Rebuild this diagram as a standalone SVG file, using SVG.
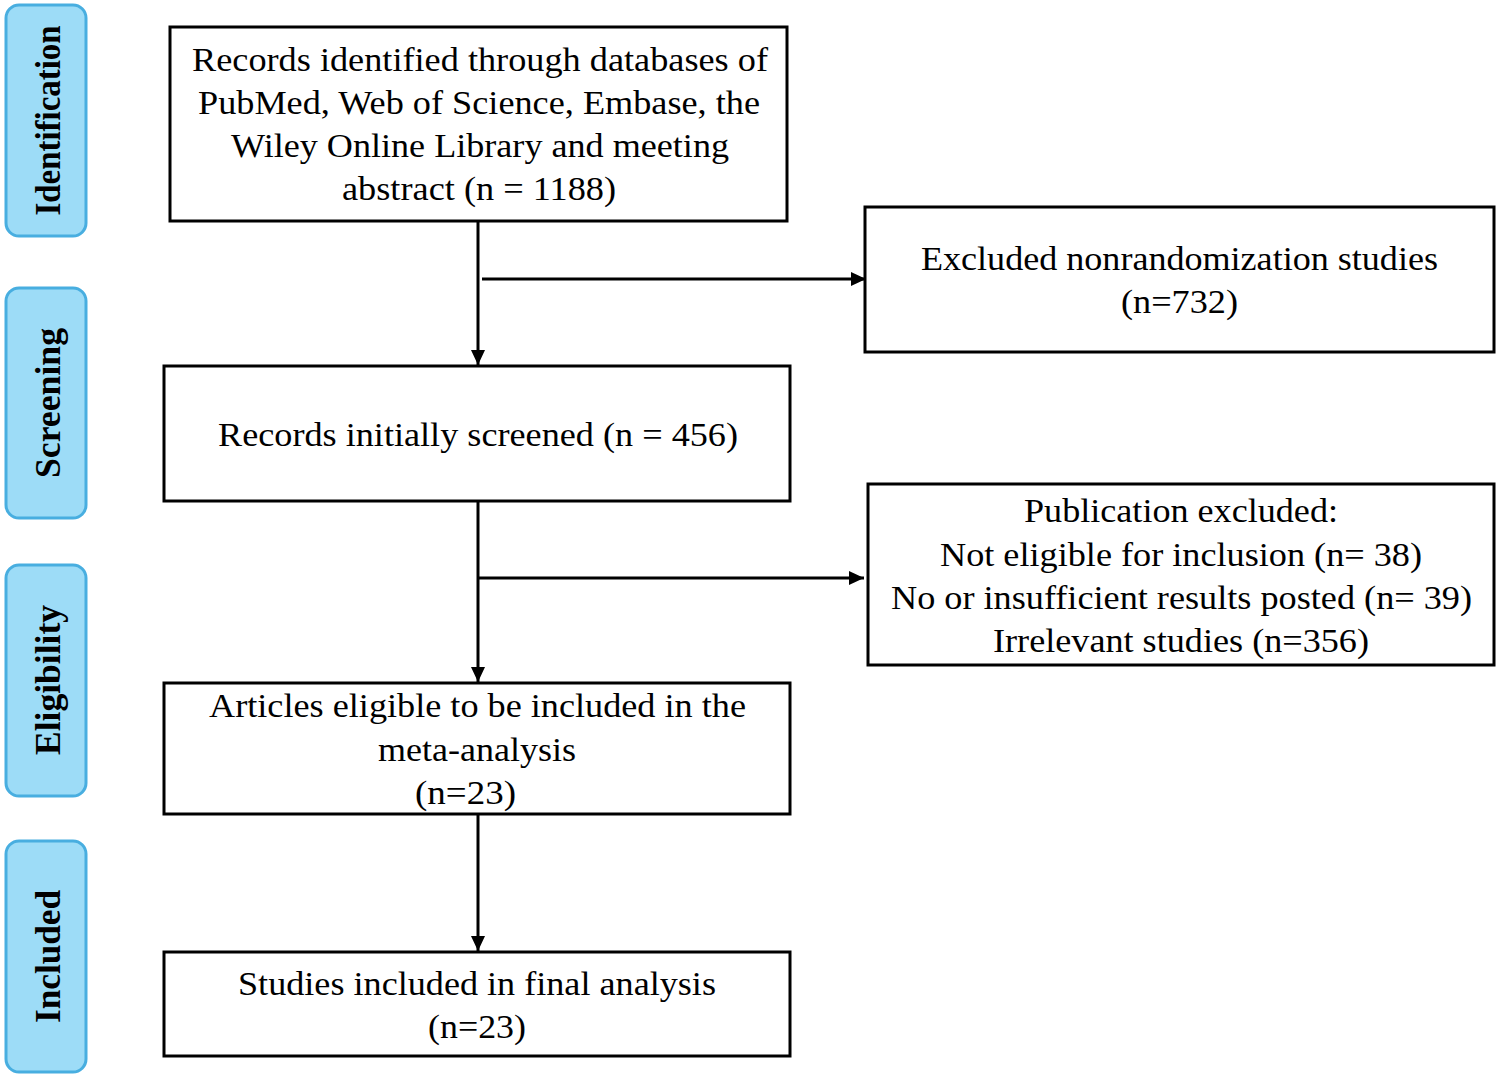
<svg xmlns="http://www.w3.org/2000/svg" width="1499" height="1078" viewBox="0 0 1499 1078">
<defs>
<style>
.box{fill:#fff;stroke:#000;stroke-width:3}
.side{fill:#9ddcf7;stroke:#48aee0;stroke-width:3}
.t{font-family:"Liberation Serif","Times New Roman",serif;font-size:34px;fill:#000;text-anchor:middle}
.s{font-family:"Liberation Serif","Times New Roman",serif;font-size:35px;font-weight:bold;fill:#000;text-anchor:middle}
.c{stroke:#000;stroke-width:3;fill:none}
</style>
<marker id="ah" markerUnits="userSpaceOnUse" markerWidth="16" markerHeight="14" refX="15" refY="7" orient="auto">
<path d="M0,0 L15,7 L0,14 Z" fill="#000"/>
</marker>
</defs>
<rect width="1499" height="1078" fill="#fff"/>
<g id="side-identification">
<rect class="side" x="6" y="5" width="80" height="231" rx="13"/>
<text class="s" transform="translate(60,120.5) rotate(-90)" textLength="190" lengthAdjust="spacingAndGlyphs">Identification</text>
</g>
<g id="side-screening">
<rect class="side" x="6" y="288" width="80" height="230" rx="13"/>
<text class="s" transform="translate(60,403) rotate(-90)" textLength="150" lengthAdjust="spacingAndGlyphs">Screening</text>
</g>
<g id="side-eligibility">
<rect class="side" x="6" y="565" width="80" height="231" rx="13"/>
<text class="s" transform="translate(60,680) rotate(-90)" textLength="150" lengthAdjust="spacingAndGlyphs">Eligibility</text>
</g>
<g id="side-included">
<rect class="side" x="6" y="841" width="80" height="231" rx="13"/>
<text class="s" transform="translate(60,956.5) rotate(-90)" textLength="133" lengthAdjust="spacingAndGlyphs">Included</text>
</g>
<g id="connectors">
<line class="c" x1="478" y1="222" x2="478" y2="365" marker-end="url(#ah)"/>
<line class="c" x1="482" y1="279" x2="866" y2="279" marker-end="url(#ah)"/>
<line class="c" x1="478" y1="502" x2="478" y2="682" marker-end="url(#ah)"/>
<line class="c" x1="478" y1="578" x2="864" y2="578" marker-end="url(#ah)"/>
<line class="c" x1="478" y1="815" x2="478" y2="951" marker-end="url(#ah)"/>
</g>
<g id="node-identified">
<rect class="box" x="170" y="27" width="617" height="194"/>
<text class="t" x="480" y="71" textLength="576" lengthAdjust="spacingAndGlyphs">Records identified through databases of</text>
<text class="t" x="479" y="114" textLength="562" lengthAdjust="spacingAndGlyphs">PubMed, Web of Science, Embase, the</text>
<text class="t" x="480" y="157" textLength="498" lengthAdjust="spacingAndGlyphs">Wiley Online Library and meeting</text>
<text class="t" x="479" y="200" textLength="274" lengthAdjust="spacingAndGlyphs">abstract (n = 1188)</text>
</g>
<g id="node-excluded-nonrandom">
<rect class="box" x="865" y="207" width="629" height="145"/>
<text class="t" x="1179.5" y="270" textLength="517" lengthAdjust="spacingAndGlyphs">Excluded nonrandomization studies</text>
<text class="t" x="1179.5" y="313" textLength="117" lengthAdjust="spacingAndGlyphs">(n=732)</text>
</g>
<g id="node-screened">
<rect class="box" x="164" y="366" width="626" height="135"/>
<text class="t" x="478" y="446" textLength="520" lengthAdjust="spacingAndGlyphs">Records initially screened (n = 456)</text>
</g>
<g id="node-publication-excluded">
<rect class="box" x="868" y="484" width="626" height="181"/>
<text class="t" x="1181" y="522" textLength="314" lengthAdjust="spacingAndGlyphs">Publication excluded:</text>
<text class="t" x="1181" y="566" textLength="482" lengthAdjust="spacingAndGlyphs">Not eligible for inclusion (n= 38)</text>
<text class="t" x="1181.5" y="609" textLength="581" lengthAdjust="spacingAndGlyphs">No or insufficient results posted (n= 39)</text>
<text class="t" x="1181" y="652" textLength="376" lengthAdjust="spacingAndGlyphs">Irrelevant studies (n=356)</text>
</g>
<g id="node-eligible">
<rect class="box" x="164" y="683" width="626" height="131"/>
<text class="t" x="477.5" y="717" textLength="537" lengthAdjust="spacingAndGlyphs">Articles eligible to be included in the</text>
<text class="t" x="477" y="761" textLength="198" lengthAdjust="spacingAndGlyphs">meta-analysis</text>
<text class="t" x="465.5" y="804" textLength="101" lengthAdjust="spacingAndGlyphs">(n=23)</text>
</g>
<g id="node-included">
<rect class="box" x="164" y="952" width="626" height="104"/>
<text class="t" x="477" y="995" textLength="478" lengthAdjust="spacingAndGlyphs">Studies included in final analysis</text>
<text class="t" x="477" y="1038" textLength="98" lengthAdjust="spacingAndGlyphs">(n=23)</text>
</g>
</svg>
